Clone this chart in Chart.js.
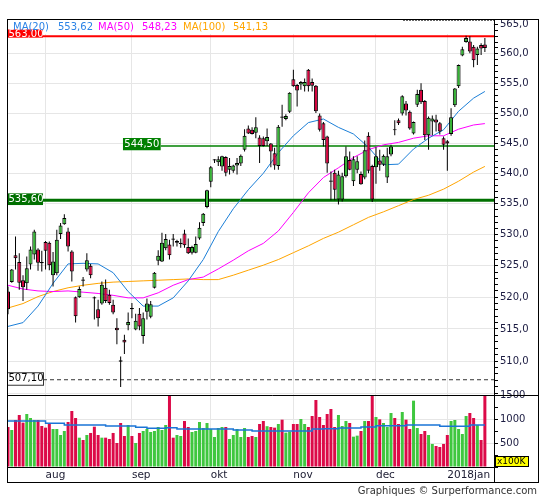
<!DOCTYPE html>
<html>
<head>
<meta charset="utf-8">
<script src="https://cdn.jsdelivr.net/npm/chart.js@4.4.1/dist/chart.umd.min.js"></script>
<style>
  html, body { margin: 0; padding: 0; background: #fff; }
</style>
</head>
<body>
<canvas id="chart" width="545" height="500"></canvas>
<script>
// month labels on the time axis and the trading day (1-based) each month starts on
const monthLabels = ['aug', 'sep', 'okt', 'nov', 'dec', '2018jan'];
const monthStart = [11, 34, 55, 77, 99, 118];

// daily candles, mid-July 2017 to mid-January 2018
const open = [520.9,522.4,526.7,525.6,522.7,522.2,525.2,526.8,527.6,525.6,
  528.8,528.7,523.5,523.8,530.1,531.7,530.5,527.3,520.0,520.0,
  522.8,524.4,525.0,520.0,518.1,519.0,521.5,520.4,518.8,515.2,
  510.1,513.3,515.6,518.3,514.9,517.4,513.9,517.7,516.9,521.5,
  525.8,525.7,527.8,528.4,529.4,528.7,528.5,530.2,528.0,527.1,
  527.1,529.4,531.9,534.5,538.6,542.1,541.8,541.1,542.7,540.6,
  540.4,541.3,541.6,543.9,547.4,547.2,546.7,545.9,545.8,545.3,
  544.9,543.3,541.2,549.4,549.0,550.2,555.7,554.7,554.8,554.5,
  557.3,555.2,554.6,549.6,548.3,546.1,538.8,540.1,535.7,535.7,
  539.5,542.2,538.7,540.6,539.9,539.3,546.2,541.2,541.0,542.1,
  541.4,539.3,543.1,547.3,548.8,549.9,551.6,550.2,546.6,551.4,
  553.9,552.0,546.3,548.6,548.9,548.3,545.8,545.3,546.5,551.3,
  554.5,559.7,562.0,562.1,561.2,559.8,561.5,561.6];
const high = [521.7,524.5,529.7,527.0,523.5,526.5,528.1,530.8,527.8,527.4,
  529.0,528.9,527.2,530.8,531.9,533.3,531.1,527.5,520.1,521.7,
  523.2,527.0,525.3,520.1,519.6,522.5,522.8,521.2,519.6,516.7,
  510.7,514.1,517.6,519.1,517.4,518.3,517.6,519.8,519.4,524.0,
  527.5,530.3,530.1,529.2,530.1,529.2,529.4,530.8,529.4,528.2,
  529.7,532.0,533.5,537.3,541.2,542.3,542.8,542.9,542.8,542.5,
  541.4,542.5,543.1,547.3,547.9,547.6,549.3,546.3,546.1,547.4,
  545.0,544.2,548.0,551.4,549.8,553.5,557.3,554.9,555.4,555.8,
  557.4,555.8,554.7,549.9,548.5,546.2,540.3,540.6,540.4,540.1,
  544.4,543.6,542.8,542.8,540.3,545.4,546.8,541.4,544.3,543.9,
  543.1,544.2,544.7,548.8,549.1,553.0,552.0,550.4,548.6,553.9,
  555.0,552.2,549.4,549.6,549.7,548.5,546.1,545.5,550.8,554.2,
  558.2,561.2,563.1,563.0,561.5,561.2,561.8,562.7];
const low = [517.3,522.3,524.4,521.2,519.4,521.2,524.4,526.0,524.2,524.1,
  524.4,524.3,521.7,523.5,529.3,531.6,527.3,522.5,516.0,519.9,
  521.7,524.1,523.0,516.5,515.4,518.8,519.1,518.8,517.3,512.6,
  506.0,511.1,514.8,516.7,514.8,514.8,512.7,516.5,516.7,521.4,
  525.1,525.6,527.5,526.0,528.1,528.1,527.9,527.9,526.9,526.8,
  527.0,529.2,531.4,534.3,537.7,541.7,541.2,540.4,539.5,539.8,
  540.1,539.8,541.2,543.6,546.5,546.4,545.8,541.7,544.4,544.5,
  541.0,540.6,540.6,547.7,548.8,550.0,554.4,551.1,553.9,553.6,
  553.6,553.6,550.0,546.9,544.4,540.1,535.6,535.6,534.9,535.4,
  539.3,540.5,537.9,540.0,538.1,539.0,540.0,535.3,538.3,540.4,
  541.2,538.4,542.8,546.3,548.0,549.6,549.6,547.2,546.4,551.0,
  551.5,545.5,543.9,546.3,546.9,546.4,543.9,540.4,546.2,551.0,
  554.2,559.6,561.9,560.1,557.7,558.1,559.8,560.3];
const close = [518.1,524.4,526.2,522.3,521.6,524.6,527.6,530.5,525.5,525.4,
  527.4,525.1,525.7,529.2,531.5,532.7,528.1,524.1,517.0,521.3,
  522.6,525.9,523.5,519.8,516.7,522.0,519.4,519.1,517.6,514.8,
  509.9,512.9,516.1,518.1,516.3,515.4,516.7,519.0,518.9,523.9,
  526.6,528.7,529.3,526.7,529.2,529.0,528.7,528.3,527.0,528.0,
  528.5,531.1,533.4,537.2,541.0,542.3,542.3,542.8,540.1,541.2,
  541.3,541.7,542.9,546.2,546.6,546.5,547.6,544.5,544.5,546.0,
  543.6,541.3,547.7,549.2,549.5,553.4,554.5,553.8,555.2,555.2,
  554.5,554.6,550.3,547.2,545.5,541.6,538.6,537.3,539.8,539.5,
  542.8,540.6,542.3,542.0,538.2,543.8,540.4,535.7,542.8,541.4,
  542.9,542.8,544.4,547.1,548.3,552.8,550.4,547.4,548.5,553.2,
  551.8,546.3,549.2,549.1,548.4,546.9,544.7,544.9,549.3,554.1,
  558.1,560.8,562.7,560.4,558.9,560.9,560.9,561.0];
// volume in units of 100K
const volume = [833,771,979,1083,924,1104,1021,979,979,854,
  820,910,792,792,667,750,938,1167,1021,611,
  563,667,709,840,667,611,611,584,709,500,
  917,646,875,646,500,709,750,792,729,750,
  833,771,875,1490,611,667,646,958,833,729,
  750,938,813,917,792,625,813,833,833,584,
  667,792,625,813,625,646,625,896,958,850,
  833,820,896,986,716,736,896,896,1000,896,
  833,1062,1396,1042,875,1104,1208,833,1083,854,
  958,917,632,653,750,958,958,1490,1042,993,
  917,833,1125,1021,896,1146,986,792,1382,813,
  688,750,667,480,438,417,480,667,958,979,
  792,688,1062,1125,1021,875,563,1490];

// moving averages at these trading days
const maDays = [1,5,9,13,17,21,25,29,33,37,41,45,49,53,57,61,65,69,73,77,81,85,89,93,97,101,105,109,113,117,121,125,128];
const ma20 = [515.4,516.0,518.6,522.2,525.3,525.4,525.3,523.9,520.9,518.6,518.6,519.9,522.6,526.0,530.5,534.2,537.3,540.0,543.4,546.2,548.4,549.0,547.6,546.5,544.3,541.4,541.5,544.0,545.8,547.2,550.3,552.5,553.62];
const ma50 = [521.9,521.3,521.0,520.9,521.0,520.8,520.6,520.3,519.9,519.9,520.7,521.9,522.8,523.2,524.5,525.9,527.4,528.6,530.6,533.6,536.8,539.3,540.9,542.6,543.9,544.7,545.1,545.8,546.2,546.2,547.3,548.0,548.23];
const ma100 = [518.3,519.0,520.1,520.9,521.5,521.9,522.2,522.4,522.5,522.6,522.7,522.8,522.9,522.8,522.8,523.5,524.3,525.1,526.0,527.1,528.2,529.4,530.4,531.6,532.8,533.7,534.7,535.7,536.4,537.4,538.7,540.2,541.13];
const volAvgDays = [1,11,16,27,35,38,43,46,61,66,82,85,89,95,99,107,116,124,128];
const volAvg = [958,910,875,854,827,806,820,792,771,750,792,799,813,833,861,875,847,875,875];

// horizontal levels
const levels = [563.00, 544.50, 535.60, 507.10];
const maLast = ['553,62', '548,23', '541,13'];

const days = open.map((_, i) => i + 1);
const isUp = days.map((_, i) => close[i] >= open[i]);
const fmt = (v, d) => v.toFixed(d).replace('.', ',');
const priceTicks = [];
for (let v = 505; v <= 565; v++) priceTicks.push(v);

const GRID = '#e6e6e6';
const BODY_UP = '#34b534', BODY_DN = '#d5003c';
const VOL_UP = '#3fc73f', VOL_DN = '#dc0a48';

const decor = {
  id: 'decor',
  beforeDraw(chart) {
    const c = chart.ctx;
    c.save();
    c.fillStyle = '#fff';
    c.fillRect(0, 0, chart.width, chart.height);
    c.restore();
  },
  beforeDatasetsDraw(chart) {
    const c = chart.ctx, a = chart.chartArea, y = chart.scales.y, x = chart.scales.x;
    const style = [
      {color: '#ff0000', w: 2, from: a.left},
      {color: '#008000', w: 1.5, from: x.getPixelForValue(41.7)},
      {color: '#007000', w: 3, from: a.left + 36},
      {color: '#333333', w: 1, from: a.left + 36, dash: [4, 3]}
    ];
    c.save();
    levels.forEach((v, i) => {
      const py = y.getPixelForValue(v), s = style[i];
      c.strokeStyle = s.color; c.lineWidth = s.w;
      c.setLineDash(s.dash || []);
      c.beginPath(); c.moveTo(s.from, py); c.lineTo(a.right, py); c.stroke();
    });
    c.restore();
  },
  afterDatasetsDraw(chart) {
    const c = chart.ctx, a = chart.chartArea, y = chart.scales.y, x = chart.scales.x;
    c.save();
    // legend band
    c.fillStyle = '#fff';
    c.fillRect(a.left + 1, a.top + 1, a.right - a.left - 2, 14);
    // dotted high line along the top
    c.strokeStyle = '#666'; c.lineWidth = 1; c.setLineDash([2, 1]);
    c.beginPath(); c.moveTo(x.getPixelForValue(106.2), a.top + 1.5); c.lineTo(a.right, a.top + 1.5); c.stroke();
    c.setLineDash([]);

    // level labels
    c.font = '10px "DejaVu Sans"';
    c.textBaseline = 'middle';
    c.textAlign = 'left';
    const lab = [
      {bg: '#ff0000', fg: '#fff', x0: a.left, top: -7, h: 8.5, ty: -2},
      {bg: '#008000', fg: '#fff', x0: x.getPixelForValue(41.7) - 38, top: -8, h: 12.5, ty: -1.5},
      {bg: '#007000', fg: '#fff', x0: a.left, top: -7, h: 12, ty: -1},
      {bg: '#fff', fg: '#000', x0: a.left, top: -7.5, h: 12.5, ty: -1, border: '#333'}
    ];
    levels.forEach((v, i) => {
      const py = y.getPixelForValue(v), L = lab[i];
      const w = i === 1 ? 38 : 36;
      c.save();
      c.beginPath(); c.rect(L.x0, py + L.top, w, L.h); c.clip();
      c.fillStyle = L.bg; c.fillRect(L.x0, py + L.top, w, L.h);
      c.fillStyle = L.fg; c.fillText(fmt(v, 2), L.x0 + 1.5, py + L.ty);
      c.restore();
      if (L.border) {
        c.strokeStyle = L.border; c.lineWidth = 1;
        c.strokeRect(L.x0 + 0.5, py + L.top + 0.5, w, L.h);
      }
    });

    // MA legend
    const leg = [
      ['MA(20)', 13, '#2b83e6'], [maLast[0], 58, '#2b83e6'],
      ['MA(50)', 98, '#ff00ff'], [maLast[1], 142, '#ff00ff'],
      ['MA(100)', 183, '#ffa500'], [maLast[2], 233, '#ffa500']
    ];
    leg.forEach(([t, px, col]) => { c.fillStyle = col; c.fillText(t, px, 27.5); });

    // frames
    c.strokeStyle = '#000'; c.lineWidth = 1;
    c.strokeRect(7.5, 19.5, 531, 463);
    c.beginPath();
    c.moveTo(a.right + 0.5, a.top); c.lineTo(a.right + 0.5, 482.5);
    const mid = chart.scales.yv.top;
    c.moveTo(7, Math.round(mid) + 0.5); c.lineTo(538.5, Math.round(mid) + 0.5);
    c.moveTo(7, a.bottom + 0.5); c.lineTo(a.right, a.bottom + 0.5);
    c.stroke();

    // volume unit box
    c.fillStyle = '#ffff00';
    c.fillRect(a.right + 1, a.bottom - 10, 34, 10);
    c.strokeRect(a.right + 1.5, a.bottom - 10.5, 33, 10);
    c.fillStyle = '#000';
    c.font = '9px "DejaVu Sans"';
    c.fillText('x100K', a.right + 3, a.bottom - 5);

    // credit
    c.textAlign = 'right';
    c.fillStyle = '#333';
    c.font = '10px "DejaVu Sans"';
    c.fillText('Graphiques \u00a9 Surperformance.com', 537, 491);
    c.restore();
  }
};

const pts = (xs, ys) => xs.map((d, i) => ({x: d, y: ys[i]}));

new Chart(document.getElementById('chart'), {
  type: 'bar',
  data: {
    datasets: [
      {
        label: 'body', type: 'bar', yAxisID: 'y', order: 1, grouped: false,
        data: days.map((d, i) => ({x: d, y: [Math.min(open[i], close[i]), Math.max(open[i], close[i])]})),
        backgroundColor: isUp.map(u => u ? BODY_UP : BODY_DN),
        borderColor: '#000', borderWidth: 1, borderSkipped: false, barThickness: 4, inflateAmount: 0
      },
      {
        label: 'wick', type: 'bar', yAxisID: 'y', order: 2, grouped: false,
        data: days.map((d, i) => ({x: d, y: [low[i], high[i]]})),
        backgroundColor: '#000', barThickness: 1, inflateAmount: 0
      },
      { label: 'MA(20)', type: 'line', yAxisID: 'y', order: 3, data: pts(maDays, ma20),
        borderColor: '#1c7fd8', borderWidth: 1, pointRadius: 0, tension: 0 },
      { label: 'MA(50)', type: 'line', yAxisID: 'y', order: 3, data: pts(maDays, ma50),
        borderColor: '#ff00ff', borderWidth: 1, pointRadius: 0, tension: 0 },
      { label: 'MA(100)', type: 'line', yAxisID: 'y', order: 3, data: pts(maDays, ma100),
        borderColor: '#ffa500', borderWidth: 1, pointRadius: 0, tension: 0 },
      { label: 'volAvg', type: 'line', yAxisID: 'yv', order: 4, data: pts(volAvgDays, volAvg),
        borderColor: '#1a74d6', borderWidth: 1.5, pointRadius: 0, stepped: true },
      {
        label: 'volume', type: 'bar', yAxisID: 'yv', order: 5, grouped: false,
        data: days.map((d, i) => ({x: d, y: volume[i]})),
        backgroundColor: isUp.map(u => u ? VOL_UP : VOL_DN),
        barThickness: 3, inflateAmount: 0
      }
    ]
  },
  options: {
    responsive: false,
    animation: false,
    devicePixelRatio: 1,
    layout: { padding: { left: 7, right: 7, top: 19, bottom: 18 } },
    plugins: { legend: { display: false }, tooltip: { enabled: false } },
    font: { family: '"DejaVu Sans"' },
    scales: {
      x: {
        type: 'linear', min: 0.734, max: 130.43, offset: false, bounds: 'ticks',
        afterBuildTicks: s => { s.ticks = monthStart.map(v => ({value: v})); },
        afterFit: s => { s.height = 15; },
        ticks: {
          autoSkip: false, maxRotation: 0, align: 'start', padding: 2,
          color: '#1a1a30', font: { family: '"DejaVu Sans"', size: 10.5 },
          callback: v => monthLabels[monthStart.indexOf(v)]
        },
        grid: { color: GRID, drawTicks: false, offset: false },
        border: { color: '#000' }
      },
      y: {
        type: 'logarithmic', position: 'right', stack: 'panels', stackWeight: 376,
        min: 504.75, max: 565.97,
        afterBuildTicks: s => { s.ticks = priceTicks.map(v => ({value: v})); },
        afterFit: s => { s.width = 44; },
        ticks: {
          autoSkip: false, padding: 2, color: '#1a1a40',
          font: { family: '"DejaVu Sans"', size: 10 },
          callback: v => (v % 5 === 0 && v >= 510) ? fmt(v, 1) : ''
        },
        grid: {
          color: c => (c.tick && c.tick.value % 5 === 0) ? GRID : 'rgba(0,0,0,0)',
          tickColor: '#000', tickLength: 4
        },
        border: { color: '#000' }
      },
      yv: {
        type: 'linear', position: 'right', stack: 'panels', stackWeight: 72,
        min: 0, max: 1500,
        afterBuildTicks: s => { s.ticks = [0, 250, 500, 750, 1000, 1250, 1500].map(v => ({value: v})); },
        afterFit: s => { s.width = 44; },
        ticks: {
          autoSkip: false, padding: 2, color: '#1a1a40',
          font: { family: '"DejaVu Sans"', size: 10 },
          callback: v => (v > 0 && v % 500 === 0) ? String(v) : ''
        },
        grid: {
          color: c => (c.tick && (c.tick.value === 500 || c.tick.value === 1000)) ? GRID : 'rgba(0,0,0,0)',
          tickColor: '#000', tickLength: 4
        },
        border: { color: '#000' }
      }
    }
  },
  plugins: [decor]
});
</script>
</body>
</html>
